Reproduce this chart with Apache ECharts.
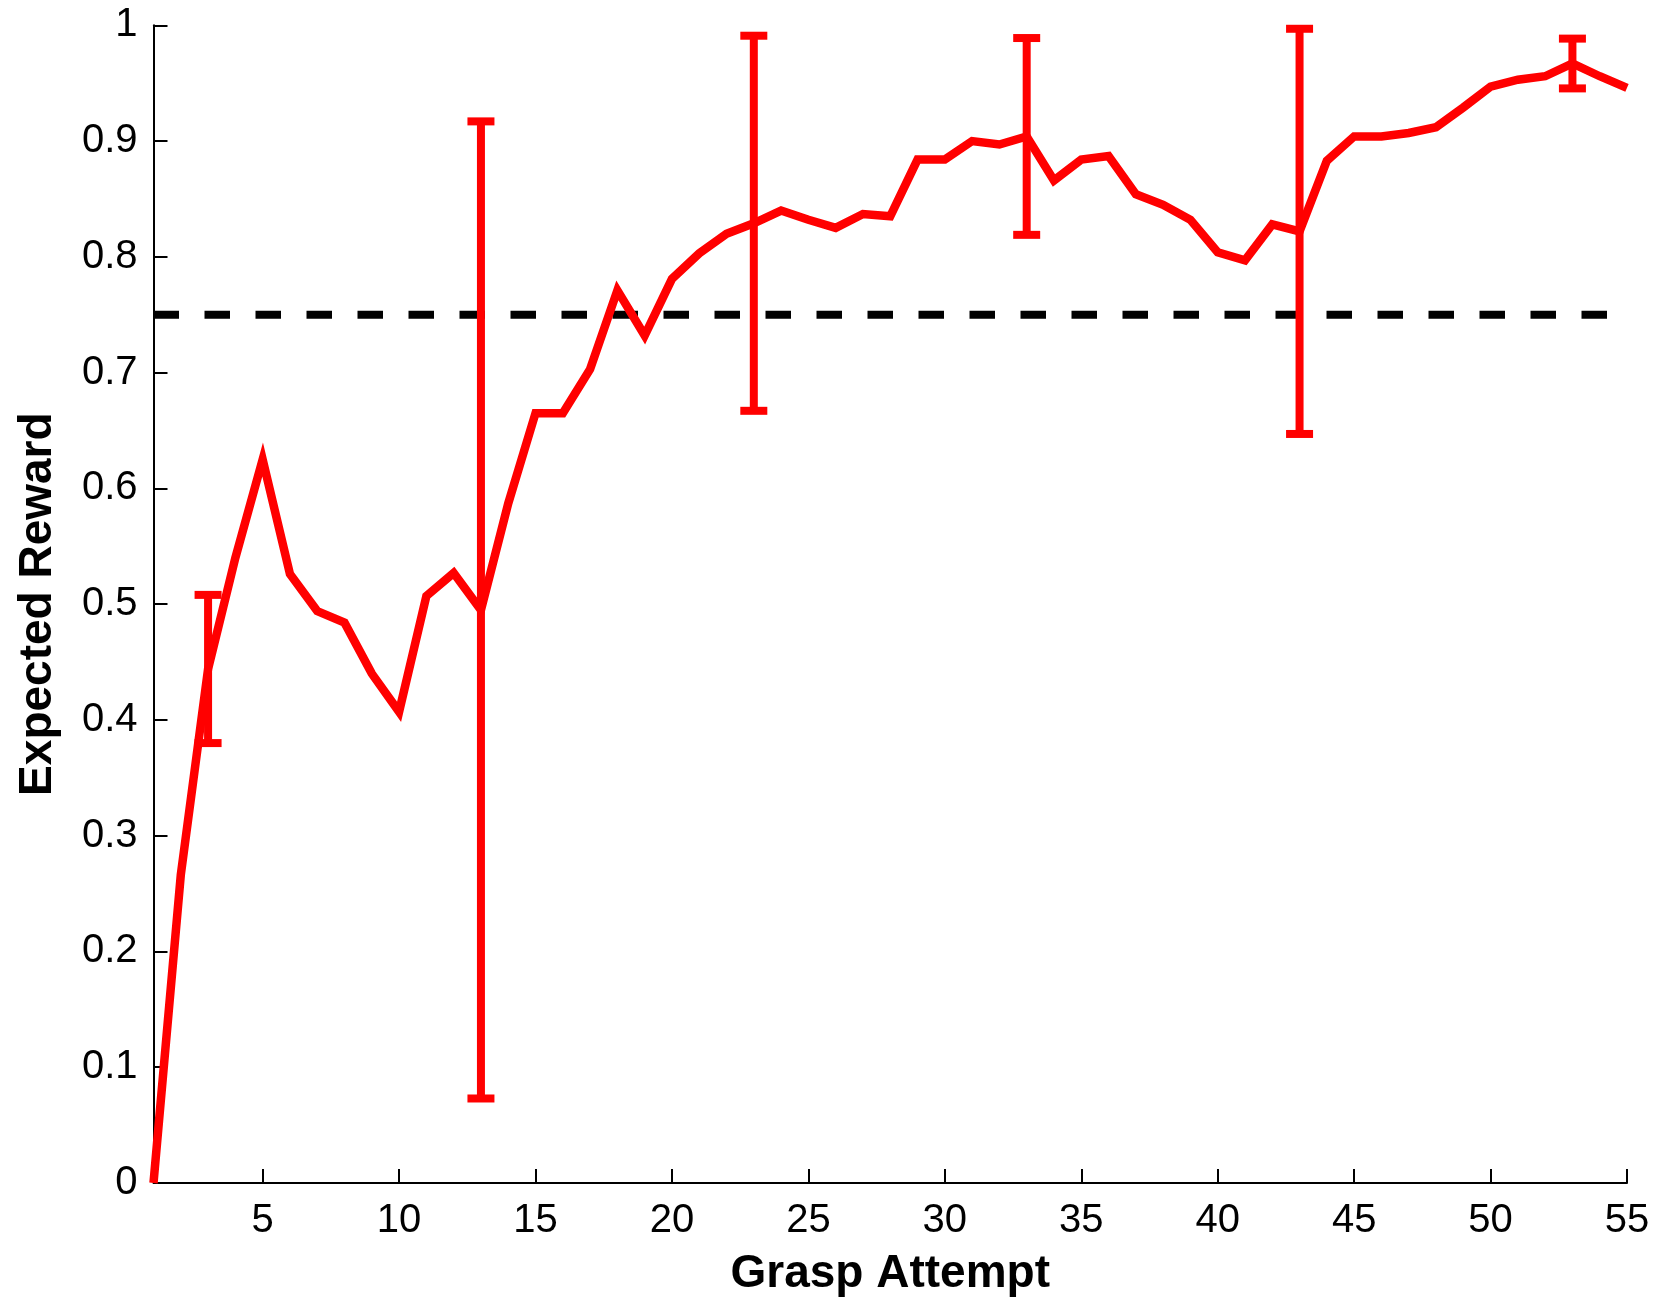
<!DOCTYPE html>
<html>
<head>
<meta charset="utf-8">
<title>Expected Reward vs Grasp Attempt</title>
<script src="https://cdn.jsdelivr.net/npm/echarts@6/dist/echarts.min.js"></script>
<style>
  html, body { margin: 0; padding: 0; background: #ffffff; }
  #chart { width: 1660px; height: 1302px; }
</style>
</head>
<body>
<div id="chart"></div>
<script>
// Mean expected reward after each grasp attempt (attempts 1..55)
const attempts = [];
for (let i = 1; i <= 55; i++) attempts.push(i);

const expectedReward = [
  0.000, 0.266, 0.444, 0.540, 0.625, 0.526, 0.494, 0.484, 0.440, 0.407,
  0.507, 0.527, 0.495, 0.587, 0.665, 0.665, 0.703, 0.771, 0.732, 0.781,
  0.803, 0.820, 0.829, 0.840, 0.832, 0.825, 0.837, 0.835, 0.884, 0.884,
  0.900, 0.897, 0.904, 0.866, 0.884, 0.887, 0.854, 0.845, 0.832, 0.804,
  0.797, 0.828, 0.822, 0.883, 0.904, 0.904, 0.907, 0.912, 0.929, 0.947,
  0.953, 0.956, 0.967, 0.956, 0.946
];

// Error bars (half-width) every ten attempts
const errorAttempts = [3, 13, 23, 33, 43, 53];
const errorHalfWidth = [0.064, 0.422, 0.162, 0.085, 0.175, 0.0215];

// Reference level drawn as a dashed line
const thresholdLevel = 0.75;

// Axis tick positions
const xTickValues = [5, 10, 15, 20, 25, 30, 35, 40, 45, 50, 55];

const RED = '#ff0000';
const FONT = '"Liberation Sans", Arial, Helvetica, sans-serif';

const lineData = attempts.map((a, i) => [a, expectedReward[i]]);
const errorData = errorAttempts.map((a, i) => {
  const mean = expectedReward[a - 1];
  return [a, mean - errorHalfWidth[i], mean + errorHalfWidth[i]];
});
const thresholdData = [[attempts[0], thresholdLevel], [attempts[attempts.length - 1], thresholdLevel]];

const chart = echarts.init(document.getElementById('chart'), null, { renderer: 'canvas' });

chart.setOption({
  backgroundColor: '#ffffff',
  animation: false,
  grid: { left: 153.5, right: 33, top: 25.3, bottom: 113.7, containLabel: false },
  xAxis: {
    type: 'value',
    min: 1,
    max: 55,
    name: 'Grasp Attempt',
    nameLocation: 'middle',
    nameGap: 68,
    nameTextStyle: { fontFamily: FONT, fontWeight: 'bold', fontSize: 46, color: '#000' },
    axisLine: { show: true, onZero: false, lineStyle: { color: '#000', width: 2 } },
    axisTick: { show: true, inside: true, length: 14, customValues: xTickValues, lineStyle: { color: '#000', width: 2 } },
    axisLabel: { show: true, customValues: xTickValues, margin: 18, fontFamily: FONT, fontSize: 40, color: '#000' },
    splitLine: { show: false }
  },
  yAxis: {
    type: 'value',
    min: 0,
    max: 1,
    interval: 0.1,
    name: 'Expected Reward',
    nameLocation: 'middle',
    nameGap: 92,
    nameTextStyle: { fontFamily: FONT, fontWeight: 'bold', fontSize: 46, color: '#000' },
    axisLine: { show: true, lineStyle: { color: '#000', width: 2 } },
    axisTick: { show: true, inside: true, length: 14, lineStyle: { color: '#000', width: 2 } },
    axisLabel: { show: true, margin: 16, fontFamily: FONT, fontSize: 40, color: '#000' },
    splitLine: { show: false }
  },
  series: [
    {
      name: 'threshold',
      type: 'line',
      data: thresholdData,
      symbol: 'none',
      silent: true,
      z: 1,
      lineStyle: { color: '#000', width: 8, type: [25.5, 25.5], cap: 'butt' }
    },
    {
      name: 'Expected Reward',
      type: 'line',
      data: lineData,
      symbol: 'none',
      z: 2,
      lineStyle: { color: RED, width: 8.5, join: 'miter', cap: 'butt' }
    },
    {
      name: 'error',
      type: 'custom',
      z: 3,
      data: errorData,
      encode: { x: 0, y: [1, 2] },
      renderItem: function (params, api) {
        const x = api.value(0);
        const lo = api.coord([x, api.value(1)]);
        const hi = api.coord([x, api.value(2)]);
        const capHalf = 13.5;
        const style = { stroke: RED, lineWidth: 8, lineCap: 'butt' };
        return {
          type: 'group',
          children: [
            { type: 'line', shape: { x1: lo[0], y1: lo[1], x2: hi[0], y2: hi[1] }, style: style },
            { type: 'line', shape: { x1: lo[0] - capHalf, y1: lo[1], x2: lo[0] + capHalf, y2: lo[1] }, style: style },
            { type: 'line', shape: { x1: hi[0] - capHalf, y1: hi[1], x2: hi[0] + capHalf, y2: hi[1] }, style: style }
          ]
        };
      }
    }
  ]
});
</script>
</body>
</html>
